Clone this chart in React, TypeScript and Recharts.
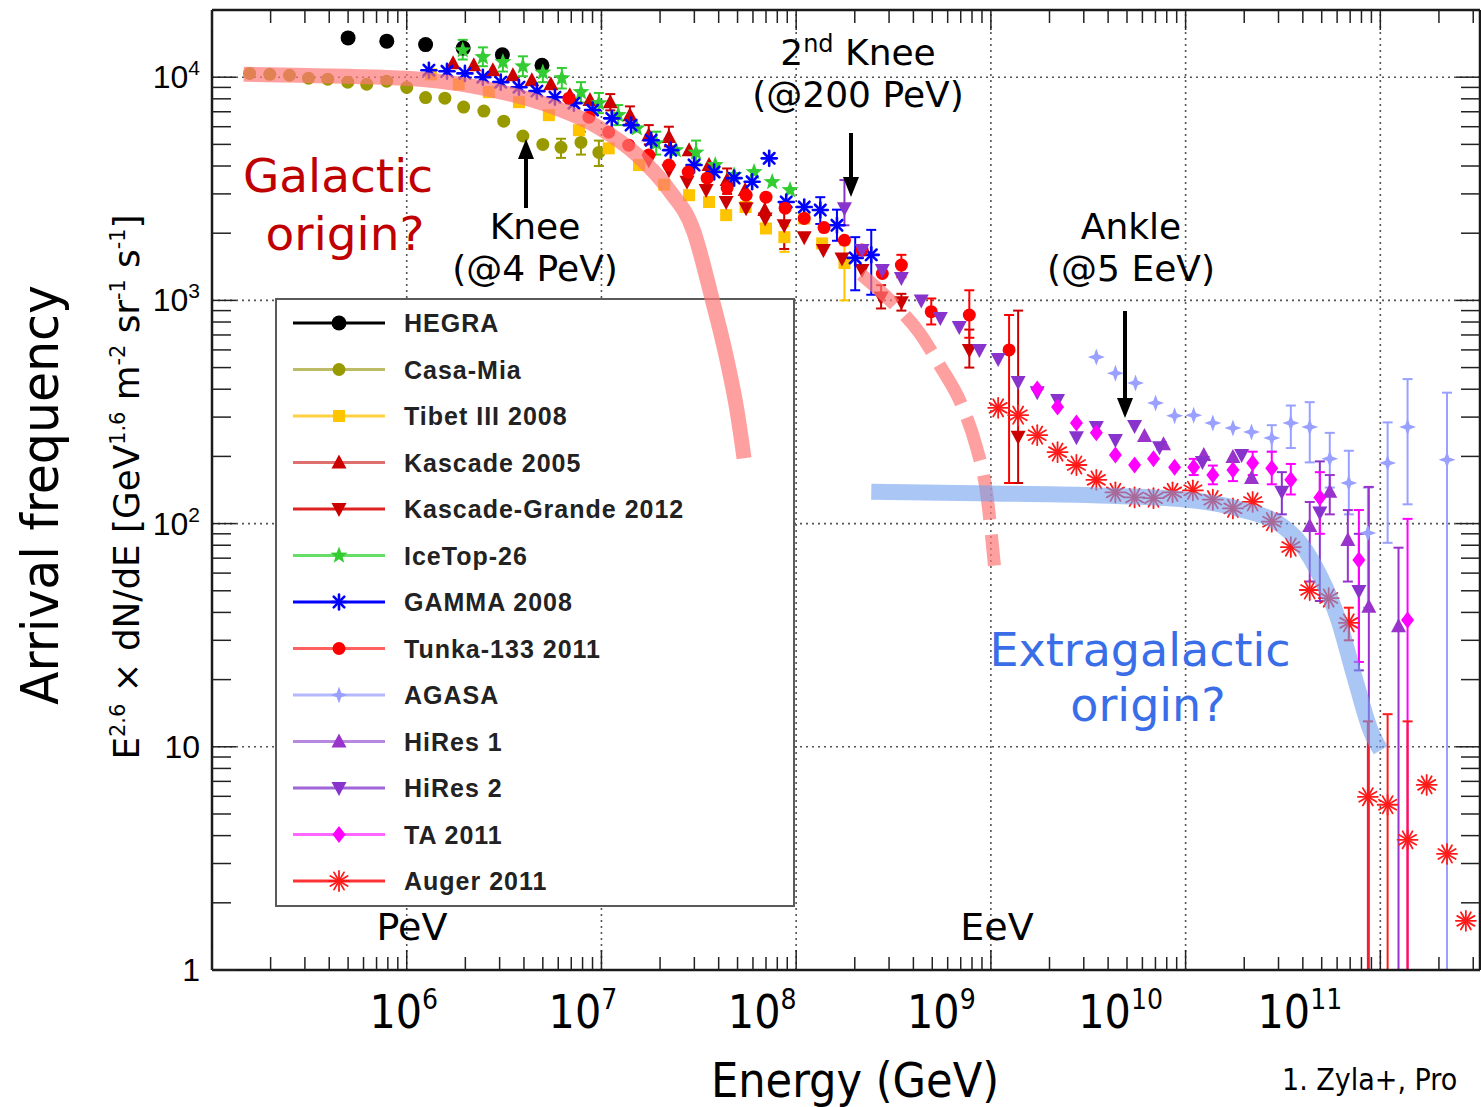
import React from "react";
import {
  ScatterChart,
  Scatter,
  XAxis,
  YAxis,
  ReferenceLine,
  ErrorBar,
  Legend,
} from "recharts";

// [energy GeV, E^2.6 flux, optional lower, optional upper]
type Pt = [number, number, number?, number?];

const HEGRA: Pt[] = [
  [5.0e5, 15000], [7.9e5, 14500], [1.25e6, 14000], [1.95e6, 13500], [3.1e6, 12600], [4.95e6, 11300],
];

const CASA_MIA: Pt[] = [
  [1.56e5, 10400], [1.98e5, 10300], [2.5e5, 10200], [3.13e5, 9900], [3.93e5, 9800],
  [4.98e5, 9500], [6.23e5, 9300], [7.89e5, 9600], [1.0e6, 9000], [1.25e6, 8100],
  [1.57e6, 8050], [1.96e6, 7350], [2.49e6, 7050], [3.15e6, 6350], [3.95e6, 5450],
  [5.0e6, 5000], [6.2e6, 4850, 4350, 5300], [7.85e6, 5100, 4500, 5700], [9.7e6, 4600, 4000, 5200],
];

const TIBET: Pt[] = [
  [1.33e6, 10300], [1.85e6, 9300], [2.64e6, 8570], [3.77e6, 7730], [5.37e6, 6760],
  [7.66e6, 5790], [1.09e7, 4800], [1.56e7, 4040], [2.1e7, 3300], [2.82e7, 2960],
  [3.57e7, 2760], [4.37e7, 2410], [5.5e7, 2620], [7.0e7, 2100], [8.7e7, 1920, 1650, 2150],
  [1.1e8, 2330], [1.36e8, 1800], [1.77e8, 1470, 1000, 1770],
];

const KASCADE: Pt[] = [
  [1.73e6, 11550], [2.21e6, 11300], [2.77e6, 10750], [3.51e6, 10200], [4.39e6, 9700],
  [5.5e6, 9300], [6.88e6, 8300], [8.73e6, 7900], [1.11e7, 7730, 7100, 8400],
  [1.4e7, 6760, 6200, 7400], [1.75e7, 5500, 5000, 6100], [2.22e7, 5390, 4900, 6000],
  [2.82e7, 4710], [3.57e7, 4040], [4.42e7, 3460, 3000, 3900], [5.47e7, 3120], [6.9e7, 2540, 2200, 2900],
];

const KASCADE_GRANDE: Pt[] = [
  [1.75e7, 4250], [2.22e7, 3830], [2.75e7, 3400], [3.45e7, 3120], [4.37e7, 2760],
  [5.53e7, 2590], [6.93e7, 2330], [8.68e7, 2170, 1700, 2700], [1.1e8, 1920], [1.38e8, 1680],
  [1.72e8, 1540], [2.18e8, 1370], [2.73e8, 1030, 920, 1170], [3.47e8, 980, 900, 1070],
  [7.75e8, 600, 500, 740], [1.38e9, 245, 152, 900],
];

const ICETOP: Pt[] = [
  [1.94e6, 13200, 12000, 14700], [2.46e6, 12300, 11200, 13600], [3.12e6, 11700, 10600, 12900],
  [3.95e6, 11200, 10100, 12400], [5.0e6, 10500, 9500, 11700], [6.26e6, 9900, 8900, 11000],
  [7.85e6, 8570, 7700, 9500], [9.7e6, 7650, 6900, 8500], [1.22e7, 6760, 6100, 7500],
  [1.52e7, 5900], [1.91e7, 5060, 4500, 5700], [2.41e7, 4710], [3.06e7, 4600, 4100, 5200],
  [3.84e7, 4040], [4.8e7, 3640], [6.08e7, 3760], [7.53e7, 3390], [9.3e7, 3120],
];

const GAMMA: Pt[] = [
  [1.3e6, 10750], [1.61e6, 10630], [1.99e6, 10400], [2.46e6, 10000], [3.04e6, 9500],
  [3.77e6, 9020], [4.66e6, 8660], [5.77e6, 8130], [7.22e6, 7650], [9.0e6, 7120],
  [1.13e7, 6540], [1.42e7, 6100], [1.8e7, 5220], [2.27e7, 4710], [2.99e7, 4040],
  [3.79e7, 3760], [4.8e7, 3530], [5.94e7, 3400], [7.27e7, 4330], [8.89e7, 2760],
  [1.1e8, 2620], [1.33e8, 2540, 2200, 2900], [1.62e8, 2170, 1850, 2550],
  [2.01e8, 1550, 1110, 1920], [2.43e8, 1600, 1060, 2070],
];

const TUNKA: Pt[] = [
  [6.81e6, 8050], [8.63e6, 6620], [1.09e7, 5670], [1.38e7, 4960], [1.75e7, 4480],
  [2.22e7, 4040], [2.79e7, 3760], [3.49e7, 3530], [4.42e7, 3190], [5.53e7, 2960],
  [7.0e7, 2900], [8.78e7, 2590], [1.1e8, 2330], [1.39e8, 2120], [1.77e8, 1860],
  [2.18e8, 1680], [2.77e8, 1320], [3.47e8, 1440, 1270, 1600], [4.94e8, 890, 780, 1020],
  [7.75e8, 860, 680, 1110], [1.24e9, 600, 152, 860],
];

const AGASA: Pt[] = [
  [3.48e9, 557], [4.36e9, 472], [5.53e9, 426], [7.01e9, 347], [8.78e9, 304],
  [1.1e10, 306], [1.38e10, 282], [1.75e10, 268], [2.18e10, 257],
  [2.77e10, 242, 210, 276], [3.47e10, 282, 218, 338], [4.34e10, 271, 188, 350],
  [5.5e10, 195, 145, 255], [6.89e10, 152, 110, 212], [8.63e10, 90.8, 42, 145],
  [1.09e11, 187, 82, 284], [1.38e11, 271, 122, 444], [2.2e11, 193, 1, 386],
];

const HIRES1: Pt[] = [
  [6.15e9, 247], [7.7e9, 227], [1.24e10, 203], [1.75e10, 199], [2.18e10, 160],
  [4.34e10, 97.5, 55, 125], [5.5e10, 139, 110, 165], [6.81e10, 84.5, 55, 115],
  [8.73e10, 42.4, 1, 146], [1.24e11, 34.7, 1, 78],
];

const HIRES2: Pt[] = [
  [1.77e8, 2590, 2170, 3460], [2.18e8, 1680], [2.77e8, 1370], [3.47e8, 1260], [4.39e8, 1000],
  [5.5e8, 834], [6.88e8, 759], [8.73e8, 599], [1.09e9, 546], [1.38e9, 431],
  [1.73e9, 388], [2.2e9, 358], [2.75e9, 244], [3.48e9, 271], [4.36e9, 237],
  [5.47e9, 274], [7.35e9, 220], [1.22e10, 189], [1.94e10, 203],
  [3.12e10, 139, 110, 170], [4.89e10, 112, 45, 190], [7.76e10, 49.9, 22, 90],
];

const TA: Pt[] = [
  [1.73e9, 401], [2.2e9, 333], [2.75e9, 282], [3.48e9, 255], [4.36e9, 203],
  [5.47e9, 183], [6.84e9, 195], [8.78e9, 179], [1.1e10, 179, 165, 195],
  [1.38e10, 165, 150, 182], [1.75e10, 174, 155, 195], [2.21e10, 187, 165, 210],
  [2.77e10, 177, 150, 210], [3.47e10, 157, 135, 185], [4.89e10, 131, 90, 170],
  [7.76e10, 68.7, 24, 115], [1.38e11, 37, 1, 105],
];

const AUGER: Pt[] = [
  [1.09e9, 330], [1.38e9, 306], [1.73e9, 249], [2.2e9, 209], [2.75e9, 183],
  [3.48e9, 157], [4.36e9, 138], [5.47e9, 131], [6.84e9, 130], [8.57e9, 138],
  [1.09e10, 141], [1.38e10, 128], [1.75e10, 117], [2.21e10, 125], [2.77e10, 102],
  [3.47e10, 78.5], [4.34e10, 50.4], [5.43e10, 46.4], [6.89e10, 35.9, 30, 42],
  [8.63e10, 5.97, 1, 13], [1.09e11, 5.5, 1, 14], [1.38e11, 3.83, 1, 13],
  [1.73e11, 6.75], [2.2e11, 3.31], [2.75e11, 1.66],
];

// hand drawn guide curves
const GALACTIC: [number, number][] = [
  [1.47e5, 10210], [2.79e5, 10100], [5.03e5, 10000], [1.0e6, 9800], [1.64e6, 9400],
  [2.97e6, 8570], [5.37e6, 7420], [9.7e6, 5910], [1.56e7, 4380], [2.22e7, 3120],
  [2.99e7, 2020], [3.7e7, 1020], [4.42e7, 541], [4.97e7, 323], [5.41e7, 196],
];
const GALACTIC_TAIL: [number, number][] = [
  [2.16e8, 1300], [3.12e8, 973], [4.29e8, 714], [5.43e8, 513], [7.13e8, 333],
  [8.41e8, 220], [9.48e8, 137], [1.04e9, 65],
];
const EXTRAGALACTIC: [number, number][] = [
  [2.43e8, 139], [6.88e8, 137], [3.33e9, 134], [1.01e10, 128], [1.96e10, 115],
  [2.94e10, 101], [3.85e10, 81.9], [4.89e10, 57.7], [5.97e10, 38.2], [7.39e10, 19.9],
  [8.83e10, 11.9], [9.94e10, 9.7],
];

const X_DOMAIN = [1e5, 3.25e11];
const Y_DOMAIN = [1, 2e4];
const X_DECADES = [1e5, 1e6, 1e7, 1e8, 1e9, 1e10, 1e11];
const Y_DECADES = [1, 10, 100, 1000, 1e4];

const W = 1481;
const H = 1107;
const MARGIN = { top: 9, right: 0, bottom: 136, left: 211 };

const FONT_NARROW = '"Liberation Sans Narrow", "DejaVu Sans Condensed", sans-serif';
const FONT_COND = '"DejaVu Sans Condensed", "DejaVu Sans", sans-serif';
const FONT_NOTE = '"DejaVu Sans", "Noto Sans", sans-serif';

const SERIES = [
  { name: "HEGRA", pts: HEGRA, color: "#000000", line: "#000000", kind: "bigcircle" },
  { name: "Casa-Mia", pts: CASA_MIA, color: "#999900", line: "#bcbc66", kind: "circle" },
  { name: "Tibet III 2008", pts: TIBET, color: "#ffc400", line: "#ffd040", kind: "square" },
  { name: "Kascade 2005", pts: KASCADE, color: "#cc0000", line: "#e07070", kind: "triUp" },
  { name: "Kascade-Grande 2012", pts: KASCADE_GRANDE, color: "#cc0000", line: "#dd2222", kind: "triDown" },
  { name: "IceTop-26", pts: ICETOP, color: "#33cc33", line: "#66dd66", kind: "star" },
  { name: "GAMMA 2008", pts: GAMMA, color: "#0000ff", line: "#0000ff", kind: "asterisk" },
  { name: "Tunka-133 2011", pts: TUNKA, color: "#ff0000", line: "#ff6060", kind: "circle" },
  { name: "AGASA", pts: AGASA, color: "#99a0ff", line: "#b4b8ff", kind: "cross4" },
  { name: "HiRes 1", pts: HIRES1, color: "#9933cc", line: "#b888e0", kind: "triUp" },
  { name: "HiRes 2", pts: HIRES2, color: "#8833cc", line: "#a066d8", kind: "triDown" },
  { name: "TA 2011", pts: TA, color: "#ff00ff", line: "#ff66ff", kind: "diamond" },
  { name: "Auger 2011", pts: AUGER, color: "#ff1a1a", line: "#ff3333", kind: "burst" },
];

const minorTicks = (decades: number[], max: number) => {
  const out: number[] = [];
  decades.forEach((d) => {
    for (let m = 1; m <= 9; m++) {
      if (m * d < max) out.push(m * d);
    }
  });
  return out;
};
const X_TICKS = minorTicks(X_DECADES, X_DOMAIN[1]);
const Y_TICKS = minorTicks(Y_DECADES, Y_DOMAIN[1]);

const decadeOf = (v: number) => {
  const exp = Math.round(Math.log10(v));
  return { exp, major: Math.abs(v - Math.pow(10, exp)) < 1e-6 * v };
};

function Marker({ kind, x, y, color }: { kind: string; x: number; y: number; color: string }) {
  switch (kind) {
    case "bigcircle":
      return <circle cx={x} cy={y} r={7.5} fill={color} />;
    case "circle":
      return <circle cx={x} cy={y} r={6.5} fill={color} />;
    case "square":
      return <rect x={x - 6} y={y - 6} width={12} height={12} fill={color} />;
    case "triUp":
      return <polygon points={`${x},${y - 8} ${x + 7.5},${y + 6} ${x - 7.5},${y + 6}`} fill={color} />;
    case "triDown":
      return <polygon points={`${x},${y + 8} ${x + 7.5},${y - 6} ${x - 7.5},${y - 6}`} fill={color} />;
    case "star": {
      const p: string[] = [];
      for (let i = 0; i < 10; i++) {
        const r = i % 2 ? 3.8 : 9;
        const a = ((-90 + 36 * i) * Math.PI) / 180;
        p.push(`${x + r * Math.cos(a)},${y + r * Math.sin(a)}`);
      }
      return <polygon points={p.join(" ")} fill={color} />;
    }
    case "cross4": {
      const p: string[] = [];
      for (let i = 0; i < 8; i++) {
        const r = i % 2 ? 3.2 : 8.5;
        const a = ((-90 + 45 * i) * Math.PI) / 180;
        p.push(`${x + r * Math.cos(a)},${y + r * Math.sin(a)}`);
      }
      return <polygon points={p.join(" ")} fill={color} />;
    }
    case "diamond":
      return <polygon points={`${x},${y - 8.5} ${x + 6.5},${y} ${x},${y + 8.5} ${x - 6.5},${y}`} fill={color} />;
    case "asterisk":
    case "burst": {
      const n = kind === "burst" ? 6 : 4;
      const r = kind === "burst" ? 10 : 7.5;
      return (
        <g stroke={color} strokeWidth={kind === "burst" ? 1.8 : 2.6} strokeLinecap="round">
          {Array.from({ length: n }, (_, i) => {
            const a = (i * Math.PI) / n;
            return (
              <line
                key={i}
                x1={x - r * Math.cos(a)}
                y1={y - r * Math.sin(a)}
                x2={x + r * Math.cos(a)}
                y2={y + r * Math.sin(a)}
              />
            );
          })}
        </g>
      );
    }
    default:
      return <g />;
  }
}

const toRows = (pts: Pt[]) =>
  pts.map(([e, f, lo, hi]) => ({
    e,
    f,
    err: lo != null && hi != null ? [f - lo, hi - f] : undefined,
  }));

const toCurve = (pts: [number, number][]) => pts.map(([e, f]) => ({ e, f }));

const renderBottomTick = (props: any) => {
  const { x, y, payload } = props;
  const { exp, major } = decadeOf(payload.value);
  return (
    <g>
      <line x1={x} y1={y} x2={x} y2={y - (major ? 20 : 13)} stroke="#222" strokeWidth={1.5} />
      {major && exp >= 6 && (
        <text x={x - 3 - 15.5 * (exp - 6)} y={y + 58} textAnchor="middle" fontFamily={FONT_NARROW} fontSize={46} fill="#000">
          10
          <tspan dy={-19} fontSize={28}>{exp}</tspan>
        </text>
      )}
    </g>
  );
};

const renderTopTick = (props: any) => {
  const { x, y, payload } = props;
  const { major } = decadeOf(payload.value);
  return <line x1={x} y1={y} x2={x} y2={y + (major ? 20 : 13)} stroke="#222" strokeWidth={1.5} />;
};

const renderLeftTick = (props: any) => {
  const { x, y, payload } = props;
  const { exp, major } = decadeOf(payload.value);
  return (
    <g>
      <line x1={x} y1={y} x2={x + (major ? 24 : 19)} y2={y} stroke="#222" strokeWidth={1.5} />
      {major && (
        <text x={x - 12} y={y + 11} textAnchor="end" fontFamily='"Liberation Sans", Arial, sans-serif' fontSize={32} fill="#000">
          {exp === 0 ? "1" : "10"}
          {exp >= 2 && (
            <tspan dy={-13} fontSize={21}>{exp}</tspan>
          )}
        </text>
      )}
    </g>
  );
};

const renderRightTick = (props: any) => {
  const { x, y, payload } = props;
  const { major } = decadeOf(payload.value);
  return <line x1={x} y1={y} x2={x - (major ? 24 : 19)} y2={y} stroke="#222" strokeWidth={1.5} />;
};

const renderLegend = () => (
  <div
    style={{
      width: 520,
      height: 609,
      boxSizing: "border-box",
      border: "2px solid #5a5a5a",
      background: "#fff",
    }}
  >
    <svg width={516} height={605}>
      {SERIES.map((s, i) => {
        const cy = 23 + i * 46.5;
        return (
          <g key={s.name}>
            <line x1={16} x2={108} y1={cy} y2={cy} stroke={s.line} strokeWidth={3} />
            <Marker kind={s.kind} x={62} y={cy} color={s.color} />
            <text
              x={127}
              y={cy + 9}
              fontFamily='"Liberation Sans", Arial, sans-serif'
              fontWeight={700}
              fontSize={25}
              letterSpacing={1}
              fill="#222"
            >
              {s.name}
            </text>
          </g>
        );
      })}
    </svg>
  </div>
);

const axisLine = { stroke: "#1a1a1a", strokeWidth: 2.5 };
const gridStyle = { stroke: "#555", strokeDasharray: "2 4", strokeWidth: 1.6 };

function Arrow({ x, from, to }: { x: number; from: number; to: number }) {
  const dir = to > from ? 1 : -1;
  const base = to - dir * 20;
  return (
    <g>
      <line x1={x} y1={from} x2={x} y2={base} stroke="#000" strokeWidth={4} />
      <polygon points={`${x},${to} ${x - 8},${base} ${x + 8},${base}`} fill="#000" />
    </g>
  );
}

function Notes() {
  return (
    <svg width={W} height={H} style={{ position: "absolute", left: 0, top: 0, pointerEvents: "none" }}>
      <g fontFamily={FONT_NOTE} textAnchor="middle">
        <text x={338} y={192} fontSize={47} fill="#c00000">Galactic</text>
        <text x={345} y={250} fontSize={47} fill="#c00000">origin?</text>
        <text x={535} y={239} fontSize={36} fill="#000">Knee</text>
        <text x={535} y={281} fontSize={36} fill="#000">(@4 PeV)</text>
        <text x={858} y={65} fontSize={36} fill="#000">
          2<tspan dy={-13} fontSize={24}>nd</tspan>
          <tspan dy={13}> Knee</tspan>
        </text>
        <text x={858} y={107} fontSize={36} fill="#000">(@200 PeV)</text>
        <text x={1131} y={239} fontSize={36} fill="#000">Ankle</text>
        <text x={1131} y={281} fontSize={36} fill="#000">(@5 EeV)</text>
        <text x={1140} y={666} fontSize={46} fill="#3a6ee8">Extragalactic</text>
        <text x={1148} y={721} fontSize={46} fill="#3a6ee8">origin?</text>
        <text x={412} y={940} fontSize={38} fill="#000">PeV</text>
        <text x={997} y={940} fontSize={38} fill="#000">EeV</text>
      </g>
      <Arrow x={526} from={208} to={139} />
      <Arrow x={851} from={133} to={197} />
      <Arrow x={1125} from={311} to={418} />
      <text x={855} y={1097} textAnchor="middle" fontFamily={FONT_COND} fontSize={48} fill="#000">
        Energy (GeV)
      </text>
      <text x={1282} y={1090} fontFamily={FONT_COND} fontSize={30} fill="#000">
        1.  Zyla+, Pro
      </text>
      <text
        transform="rotate(-90)"
        x={-495}
        y={58}
        textAnchor="middle"
        fontFamily={FONT_COND}
        fontSize={52}
        textLength={420}
        lengthAdjust="spacingAndGlyphs"
        fill="#000"
      >
        Arrival frequency
      </text>
      <text
        transform="rotate(-90)"
        x={-487}
        y={139}
        textAnchor="middle"
        fontFamily={FONT_NARROW}
        fontSize={36}
        textLength={545}
        lengthAdjust="spacingAndGlyphs"
        fill="#000"
      >
        E<tspan dy={-14} fontSize={21}>2.6</tspan>
        <tspan dy={14}> × dN/dE [GeV</tspan>
        <tspan dy={-14} fontSize={21}>1.6</tspan>
        <tspan dy={14}> m</tspan>
        <tspan dy={-14} fontSize={21}>-2</tspan>
        <tspan dy={14}> sr</tspan>
        <tspan dy={-14} fontSize={21}>-1</tspan>
        <tspan dy={14}> s</tspan>
        <tspan dy={-14} fontSize={21}>-1</tspan>
        <tspan dy={14}>]</tspan>
      </text>
    </svg>
  );
}

const axisCommon = {
  type: "number" as const,
  scale: "log" as const,
  allowDataOverflow: true,
  interval: 0 as const,
  tickLine: false,
  tickSize: 0,
  tickMargin: 0,
  axisLine,
};

export default function App() {
  return (
    <div style={{ position: "absolute", left: 0, top: 0, width: W, height: H, overflow: "hidden", background: "#fff" }}>
      <ScatterChart width={W} height={H} margin={MARGIN}>
        <XAxis {...axisCommon} dataKey="e" domain={X_DOMAIN} ticks={X_TICKS} tick={renderBottomTick} height={1} />
        <XAxis
          {...axisCommon}
          xAxisId="top"
          orientation="top"
          dataKey="e"
          domain={X_DOMAIN}
          ticks={X_TICKS}
          tick={renderTopTick}
          height={1}
        />
        <YAxis {...axisCommon} dataKey="f" domain={Y_DOMAIN} ticks={Y_TICKS} tick={renderLeftTick} width={1} />
        <YAxis
          {...axisCommon}
          yAxisId="right"
          orientation="right"
          dataKey="f"
          domain={Y_DOMAIN}
          ticks={Y_TICKS}
          tick={renderRightTick}
          width={1}
        />
        {X_DECADES.slice(1).map((v) => (
          <ReferenceLine key={`gx${v}`} x={v} {...gridStyle} />
        ))}
        {Y_DECADES.slice(1).map((v) => (
          <ReferenceLine key={`gy${v}`} y={v} {...gridStyle} />
        ))}
        {SERIES.map((s) => (
          <Scatter
            key={s.name}
            name={s.name}
            data={toRows(s.pts)}
            fill={s.color}
            isAnimationActive={false}
            shape={(p: any) => <Marker kind={s.kind} x={p.cx} y={p.cy} color={s.color} />}
          >
            <ErrorBar dataKey="err" direction="y" width={5} stroke={s.color} strokeWidth={2} isAnimationActive={false} />
          </Scatter>
        ))}
        <Legend
          content={renderLegend}
          layout="vertical"
          align="center"
          verticalAlign="middle"
          wrapperStyle={{ left: 275, top: 298, width: 520, height: 609 }}
        />
      </ScatterChart>

      <div style={{ position: "absolute", left: 0, top: 0 }}>
        <ScatterChart width={W} height={H} margin={MARGIN}>
          <XAxis dataKey="e" type="number" scale="log" domain={X_DOMAIN} allowDataOverflow height={1} hide />
          <YAxis dataKey="f" type="number" scale="log" domain={Y_DOMAIN} allowDataOverflow width={1} hide />
          <Scatter
            data={toCurve(GALACTIC)}
            line={{ stroke: "#f77", strokeWidth: 15, strokeOpacity: 0.7 }}
            lineJointType="monotoneX"
            shape={() => <g />}
            isAnimationActive={false}
          />
          <Scatter
            data={toCurve(GALACTIC_TAIL)}
            line={{ stroke: "#f77", strokeWidth: 13, strokeOpacity: 0.7, strokeDasharray: "45 15" }}
            lineJointType="monotoneX"
            shape={() => <g />}
            isAnimationActive={false}
          />
          <Scatter
            data={toCurve(EXTRAGALACTIC)}
            line={{ stroke: "#6fa0ee", strokeWidth: 16, strokeOpacity: 0.6 }}
            lineJointType="monotoneX"
            shape={() => <g />}
            isAnimationActive={false}
          />
        </ScatterChart>
      </div>
      <Notes />
    </div>
  );
}
